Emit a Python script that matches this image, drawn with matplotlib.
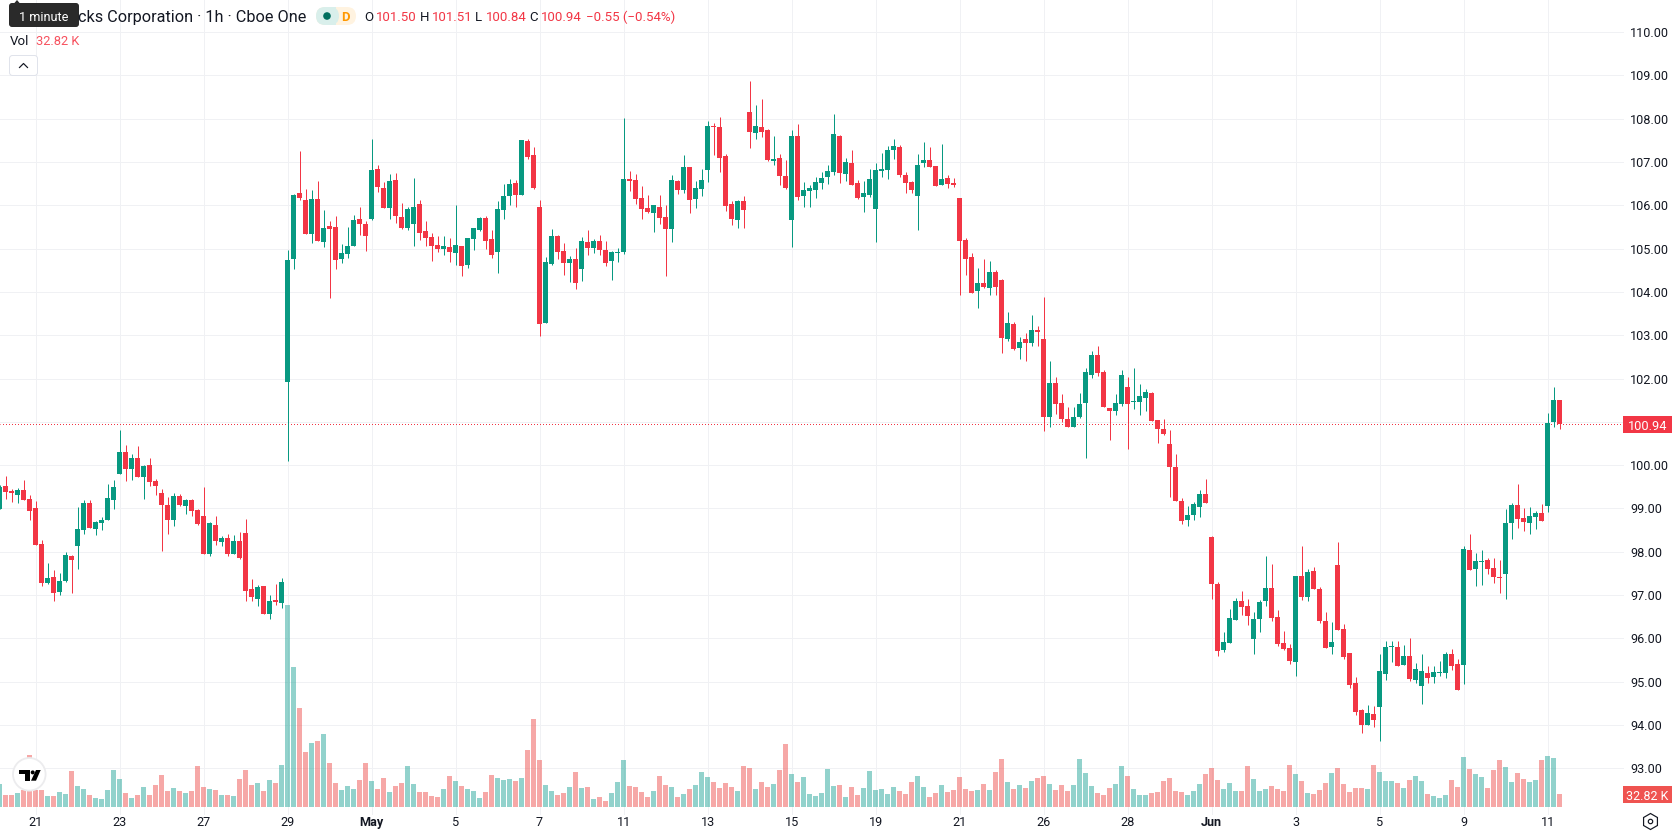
import matplotlib
matplotlib.use("Agg")
import matplotlib.pyplot as plt
import numpy as np
from matplotlib.patches import Circle, FancyBboxPatch, Polygon, Rectangle, RegularPolygon

opens = [
    98.99, 99.52, 99.41, 99.32, 99.43, 99.22, 99.02, 98.18, 97.28, 97.42,
    97.07, 97.33, 97.91, 98.14, 98.51, 99.13, 98.53, 98.67, 98.74, 99.20,
    99.80, 100.31, 99.92, 100.17, 99.73, 100.01, 99.64, 99.36, 99.08, 98.74,
    99.29, 99.06, 99.20, 98.97, 98.83, 97.95, 98.62, 98.23, 98.32, 97.95,
    98.25, 98.44, 97.14, 96.91, 97.21, 96.57, 96.89, 96.82, 101.92, 104.76,
    106.28, 106.12, 105.34, 106.15, 105.15, 105.52, 105.50, 104.76, 104.87, 105.06,
    105.68, 105.57, 105.68, 106.84, 106.40, 105.94, 106.58, 105.73, 105.48, 105.57,
    106.03, 105.41, 105.27, 105.08, 104.99, 105.04, 104.90, 105.06, 104.62, 105.22,
    105.43, 105.71, 105.22, 104.92, 105.89, 106.21, 106.51, 106.24, 107.48, 107.16,
    105.96, 103.28, 104.64, 105.29, 104.94, 104.67, 104.76, 104.53, 105.15, 105.01,
    105.17, 104.97, 104.72, 104.90, 104.93, 106.61, 106.59, 106.17, 105.94, 105.83,
    105.97, 105.73, 105.46, 106.57, 106.36, 106.89, 106.15, 106.38, 106.82, 107.84,
    107.81, 107.14, 106.03, 105.66, 106.10, 108.16, 107.67, 107.81, 107.74, 107.03,
    107.10, 106.68, 105.66, 107.61, 106.22, 106.34, 106.36, 106.52, 106.66, 106.77,
    107.61, 106.73, 106.98, 106.52, 106.20, 106.24, 105.92, 106.80, 106.82, 107.28,
    107.35, 106.70, 106.54, 106.22, 106.98, 107.05, 106.91, 106.47, 106.64, 106.52,
    106.17, 105.20, 104.81, 104.03, 104.21, 104.10, 104.46, 104.28, 102.92, 103.26,
    102.71, 102.92, 102.82, 103.12, 102.92, 101.12, 101.90, 101.44, 101.07, 100.88,
    101.12, 101.44, 102.09, 102.55, 102.16, 101.32, 101.25, 101.42, 101.81, 101.46,
    101.46, 101.55, 101.67, 101.05, 100.84, 100.49, 99.96, 99.17, 98.74, 98.85,
    99.04, 99.34, 98.34, 97.26, 95.73, 95.89, 96.43, 96.86, 96.75, 95.99,
    96.45, 96.86, 97.16, 96.49, 95.89, 95.78, 95.45, 97.44, 96.96, 97.56,
    97.14, 96.40, 95.80, 97.70, 96.22, 95.66, 94.97, 94.35, 94.00, 94.25,
    94.42, 95.18, 95.80, 95.80, 95.39, 95.59, 95.04, 94.90, 95.20, 95.11,
    95.20, 95.20, 95.64, 95.41, 95.39, 98.04, 97.60, 97.76, 97.81, 97.63,
    97.42, 97.49, 98.66, 99.08, 98.78, 98.66, 98.80, 98.90, 99.06, 101.00,
    101.50,
]
closes = [
    99.50, 99.38, 99.36, 99.43, 99.20, 98.95, 98.16, 97.28, 97.40, 97.05,
    97.33, 97.93, 97.81, 98.53, 99.13, 98.55, 98.69, 98.74, 99.25, 99.50,
    100.31, 99.92, 100.17, 99.73, 99.99, 99.62, 99.52, 99.08, 98.74, 99.29,
    99.08, 99.20, 98.95, 98.65, 97.95, 98.67, 98.25, 98.32, 97.95, 98.25,
    97.86, 97.10, 96.96, 97.19, 96.57, 96.87, 96.84, 97.31, 104.74, 106.24,
    106.17, 105.34, 106.15, 105.17, 105.48, 105.45, 104.74, 104.90, 105.06, 105.66,
    105.57, 105.29, 106.81, 106.42, 105.94, 106.56, 105.75, 105.48, 105.91, 105.96,
    105.36, 105.24, 105.06, 104.99, 105.06, 104.92, 105.08, 104.60, 105.24, 105.48,
    105.71, 105.17, 104.85, 105.91, 106.21, 106.49, 106.24, 107.51, 107.12, 106.40,
    103.26, 104.69, 105.29, 104.92, 104.67, 104.76, 104.20, 105.17, 105.01, 105.17,
    104.97, 104.67, 104.93, 104.93, 106.61, 106.57, 106.15, 105.92, 105.85, 106.01,
    105.71, 105.46, 106.59, 106.36, 106.89, 106.13, 106.40, 106.59, 107.84, 107.81,
    107.10, 105.99, 105.69, 106.10, 105.90, 107.70, 107.84, 107.70, 107.05, 107.07,
    106.68, 106.40, 107.61, 106.20, 106.36, 106.40, 106.54, 106.64, 106.80, 107.65,
    106.75, 107.00, 106.47, 106.17, 106.29, 106.61, 106.82, 106.84, 107.28, 107.37,
    106.70, 106.52, 106.36, 106.94, 107.05, 106.89, 106.45, 106.61, 106.50, 106.47,
    105.18, 104.77, 103.98, 104.21, 104.12, 104.46, 104.12, 102.94, 103.29, 102.69,
    102.85, 102.82, 103.12, 103.08, 101.12, 101.90, 101.42, 101.07, 100.88, 101.12,
    101.42, 102.16, 102.55, 102.13, 101.35, 101.25, 101.44, 102.09, 101.42, 101.48,
    101.60, 101.69, 101.02, 100.84, 100.72, 99.96, 99.17, 98.71, 98.85, 99.11,
    99.34, 99.13, 97.26, 95.71, 95.92, 96.47, 96.86, 96.73, 96.52, 96.45,
    96.84, 97.16, 96.47, 95.87, 95.76, 95.48, 97.44, 96.96, 97.53, 97.14,
    96.40, 95.78, 95.92, 96.19, 95.57, 94.92, 94.30, 94.00, 94.28, 94.12,
    95.25, 95.80, 95.82, 95.36, 95.59, 95.06, 95.29, 95.25, 95.09, 95.22,
    95.22, 95.64, 95.36, 94.81, 98.07, 97.58, 97.79, 97.79, 97.60, 97.42,
    97.40, 98.66, 99.08, 98.76, 98.69, 98.83, 98.90, 98.71, 100.98, 101.51,
    100.94,
]
highs = [
    99.55, 99.75, 99.45, 99.48, 99.66, 99.32, 99.18, 98.28, 97.74, 97.58,
    97.51, 98.00, 97.93, 99.04, 99.20, 99.20, 98.71, 98.81, 99.57, 99.66,
    100.82, 100.47, 100.26, 100.45, 100.01, 100.17, 99.69, 99.45, 99.27, 99.36,
    99.34, 99.22, 99.22, 98.99, 99.50, 98.69, 98.83, 98.37, 98.41, 98.39,
    98.46, 98.76, 97.36, 97.24, 97.21, 97.01, 97.26, 97.40, 104.97, 106.26,
    107.25, 106.38, 106.35, 106.56, 105.89, 105.64, 105.75, 105.11, 105.50, 105.78,
    105.96, 105.64, 107.53, 106.93, 106.54, 106.72, 106.75, 106.05, 105.96, 106.63,
    106.12, 105.64, 105.36, 105.29, 105.29, 105.24, 106.01, 105.06, 105.24, 105.48,
    105.73, 105.75, 105.43, 106.10, 106.49, 106.61, 106.58, 107.51, 107.53, 107.35,
    106.12, 104.81, 105.45, 105.31, 105.13, 104.83, 105.01, 105.27, 105.43, 105.22,
    105.31, 105.17, 104.95, 105.02, 108.02, 106.80, 106.73, 106.45, 106.24, 106.01,
    106.24, 106.01, 106.70, 106.59, 107.17, 106.89, 106.57, 106.84, 107.95, 107.91,
    108.04, 107.19, 106.10, 106.13, 106.22, 108.88, 108.32, 108.46, 107.77, 107.61,
    107.19, 107.05, 107.74, 107.88, 106.54, 106.47, 106.66, 106.77, 106.94, 108.11,
    107.63, 107.10, 107.28, 106.59, 106.57, 106.84, 106.98, 107.21, 107.37, 107.54,
    107.40, 106.77, 106.57, 107.19, 107.47, 107.35, 106.91, 107.42, 106.70, 106.64,
    106.17, 105.25, 104.90, 104.56, 104.77, 104.72, 104.51, 104.30, 103.54, 103.31,
    102.96, 103.06, 103.47, 103.22, 103.89, 102.41, 102.04, 101.65, 101.35, 101.35,
    101.67, 102.25, 102.64, 102.76, 102.20, 101.32, 101.65, 102.20, 102.04, 102.25,
    101.88, 101.76, 101.69, 101.05, 101.07, 100.81, 100.26, 99.24, 99.06, 99.15,
    99.43, 99.68, 98.37, 97.30, 96.15, 96.68, 96.93, 97.09, 96.91, 96.61,
    96.89, 97.90, 97.72, 96.66, 96.17, 95.87, 97.44, 98.13, 97.60, 97.65,
    97.19, 96.61, 96.38, 98.23, 96.33, 95.66, 95.11, 94.37, 94.46, 94.44,
    95.64, 95.94, 95.94, 95.94, 95.85, 96.01, 95.43, 95.64, 95.36, 95.36,
    95.48, 95.69, 95.76, 95.52, 98.13, 98.41, 97.97, 98.04, 97.86, 97.86,
    97.81, 98.99, 99.13, 99.57, 99.01, 99.04, 98.94, 99.10, 101.21, 101.81,
    101.51,
]
lows = [
    98.99, 99.22, 99.15, 99.13, 99.20, 98.74, 98.16, 97.21, 97.26, 96.87,
    97.01, 97.31, 97.05, 97.61, 98.41, 98.55, 98.39, 98.51, 98.74, 98.99,
    99.80, 99.64, 99.66, 99.73, 99.22, 99.52, 99.32, 98.02, 98.41, 98.60,
    99.06, 98.88, 98.83, 98.62, 97.95, 97.91, 98.16, 98.14, 97.91, 97.95,
    97.84, 96.87, 96.87, 96.75, 96.57, 96.45, 96.77, 96.71, 100.10, 104.53,
    106.12, 105.34, 105.13, 105.17, 105.04, 103.86, 104.53, 104.67, 104.78, 105.06,
    105.31, 104.94, 105.66, 106.31, 105.94, 105.68, 105.59, 105.45, 105.43, 105.06,
    105.20, 105.06, 104.71, 104.92, 104.85, 104.69, 104.62, 104.37, 104.55, 104.97,
    105.41, 104.99, 104.78, 104.44, 105.68, 106.01, 105.96, 106.24, 107.07, 106.38,
    102.98, 103.28, 104.62, 104.76, 104.39, 104.23, 104.07, 104.25, 104.85, 104.90,
    104.85, 104.60, 104.28, 104.69, 104.88, 106.34, 106.03, 105.69, 105.83, 105.39,
    105.57, 104.37, 105.16, 106.27, 106.29, 105.83, 105.94, 106.22, 106.54, 107.17,
    106.77, 105.87, 105.55, 105.48, 105.48, 107.33, 107.54, 107.58, 107.03, 106.94,
    106.47, 106.38, 105.04, 106.13, 105.97, 105.97, 106.17, 106.38, 106.50, 106.70,
    106.52, 106.57, 106.47, 106.15, 105.85, 106.20, 105.16, 106.66, 106.61, 107.07,
    106.66, 106.29, 106.29, 105.43, 106.89, 106.89, 106.45, 106.47, 106.40, 106.43,
    103.93, 104.40, 103.98, 103.63, 104.10, 103.93, 103.93, 102.59, 102.87, 102.66,
    102.45, 102.41, 102.76, 102.76, 100.79, 100.88, 101.18, 101.00, 100.88, 100.88,
    101.09, 100.17, 102.02, 102.06, 101.35, 100.58, 101.16, 101.37, 100.38, 101.30,
    101.16, 101.25, 101.02, 100.51, 100.70, 99.27, 99.17, 98.64, 98.60, 98.74,
    98.80, 99.13, 96.91, 95.59, 95.69, 95.89, 96.43, 96.54, 96.31, 95.64,
    96.15, 96.75, 96.40, 95.82, 95.73, 95.41, 95.13, 96.89, 96.86, 97.14,
    96.36, 95.78, 95.64, 96.19, 95.52, 94.85, 94.23, 93.81, 94.00, 93.95,
    93.63, 95.04, 95.45, 95.36, 95.39, 95.02, 94.97, 94.48, 94.97, 94.97,
    95.13, 95.09, 95.27, 94.81, 94.95, 97.58, 97.21, 97.23, 97.49, 97.28,
    97.05, 96.91, 98.30, 98.55, 98.48, 98.41, 98.53, 98.71, 98.92, 100.88,
    100.84,
]
# volume in thousands
volumes = [
    58.1, 30.3, 30.3, 35.3, 42.9, 131.3, 42.9, 42.9, 27.8, 27.8,
    37.9, 32.8, 90.9, 53.0, 45.4, 30.3, 22.7, 20.2, 42.9, 93.4,
    70.7, 35.3, 22.7, 30.3, 50.5, 30.3, 55.5, 80.8, 40.4, 48.0,
    40.4, 35.3, 40.4, 103.5, 50.5, 45.4, 42.9, 30.3, 30.3, 27.8,
    70.7, 93.4, 55.5, 60.6, 40.4, 68.2, 60.6, 106.0, 510.0, 353.0,
    249.9, 138.9, 161.6, 166.6, 184.3, 111.1, 60.6, 42.9, 53.0, 45.4,
    68.2, 111.1, 65.6, 45.4, 73.2, 37.9, 53.0, 60.6, 103.5, 58.1,
    37.9, 37.9, 27.8, 25.2, 45.4, 78.3, 65.6, 53.0, 45.4, 40.4,
    22.7, 37.9, 80.8, 73.2, 68.2, 70.7, 65.6, 73.2, 143.9, 222.2,
    118.7, 55.5, 40.4, 30.3, 35.3, 50.5, 88.4, 48.0, 50.5, 20.2,
    25.2, 15.1, 35.3, 63.1, 118.7, 53.0, 50.5, 37.9, 25.2, 40.4,
    78.3, 55.5, 50.5, 25.2, 32.8, 45.4, 55.5, 88.4, 75.7, 63.1,
    48.0, 60.6, 50.5, 40.4, 103.5, 98.5, 45.4, 63.1, 50.5, 58.1,
    93.4, 159.0, 83.3, 63.1, 75.7, 32.8, 27.8, 35.3, 95.9, 53.0,
    55.5, 25.2, 50.5, 30.3, 48.0, 90.9, 42.9, 45.4, 32.8, 50.5,
    40.4, 32.8, 63.1, 78.3, 50.5, 25.2, 35.3, 55.5, 37.9, 42.9,
    75.7, 45.4, 40.4, 42.9, 58.1, 42.9, 88.4, 121.2, 63.1, 45.4,
    55.5, 48.0, 65.6, 73.2, 78.3, 58.1, 42.9, 55.5, 40.4, 55.5,
    121.2, 85.8, 53.0, 35.3, 30.3, 48.0, 58.1, 103.5, 78.3, 45.4,
    30.3, 30.3, 35.3, 37.9, 65.6, 73.2, 40.4, 37.9, 30.3, 40.4,
    58.1, 83.3, 98.5, 68.2, 45.4, 60.6, 40.4, 40.4, 103.5, 70.7,
    40.4, 45.4, 53.0, 45.4, 40.4, 106.0, 83.3, 65.6, 35.3, 32.8,
    42.9, 60.6, 85.8, 98.5, 58.1, 37.9, 48.0, 48.0, 45.4, 106.0,
    88.4, 65.6, 65.6, 60.6, 48.0, 68.2, 78.3, 65.6, 32.8, 27.8,
    22.7, 30.3, 68.2, 50.5, 126.2, 95.9, 83.3, 75.7, 48.0, 93.4,
    118.7, 101.0, 63.1, 85.8, 70.7, 63.1, 68.2, 118.7, 128.8, 123.7,
    32.82,
]
date_ticks = list(range(6, 261, 14))
date_labels = ['21', '23', '27', '29', 'May', '5', '7', '11', '13', '15',
               '19', '21', '26', '28', 'Jun', '3', '5', '9', '11']
price_ticks = list(range(93, 111))
last_close = 100.94

GREEN = '#089981'
RED = '#F23645'
VOL_GREEN = '#26a69a'
VOL_RED = '#ef5350'
GRID = '#f0f1f4'
TEXT = '#131722'

W, H = 1678, 835
PANE_W, PANE_H = 1624, 815
PX = 0.72  # one pixel in points at dpi 100

plt.rcParams['font.family'] = ['Roboto', 'DejaVu Sans']

fig = plt.figure(figsize=(W / 100, H / 100), dpi=100, facecolor='white')
rect = [0, (H - PANE_H) / H, PANE_W / W, PANE_H / H]

n = len(opens)
x = np.arange(n)
o, h, l, c = map(np.array, (opens, highs, lows, closes))
up = c >= o
candle_colors = np.where(up, GREEN, RED)
vol_colors = np.where(up, VOL_GREEN, VOL_RED)

# price pane, 6 px per bar and 43.29 px per dollar
ax = fig.add_axes(rect)
ax.set_xlim(0.4 / 6, (PANE_W + 0.4) / 6)
ax.set_ylim(110 - (PANE_H - 32.2) / 43.29, 110 + 32.2 / 43.29)
for s in ax.spines.values():
    s.set_visible(False)
ax.grid(True, color=GRID, lw=PX, zorder=0)
ax.set_axisbelow(True)

ax.yaxis.tick_right()
ax.set_yticks(price_ticks)
ax.set_yticklabels([f'{p:.2f}' for p in price_ticks])
ax.tick_params(axis='y', length=0, pad=4.6, labelsize=9.05, labelcolor=TEXT)
ax.set_xticks(date_ticks)
ax.set_xticklabels(date_labels)
ax.tick_params(axis='x', length=0, pad=0.5, labelsize=9.05, labelcolor=TEXT)
for lab in ax.get_xticklabels():
    if lab.get_text() in ('May', 'Jun'):
        lab.set_fontweight('bold')

# half a dash of offset keeps the dots on whole pixels once the line is snapped
ax.axhline(last_close, color=RED, lw=PX, ls=(0.5, (1, 2)), zorder=1)
ax.vlines(x, l, h, colors=candle_colors, lw=PX, zorder=2)
ax.bar(x, np.abs(c - o), bottom=np.minimum(o, c), width=5 / 6,
       color=candle_colors, linewidth=0, zorder=3)

# volume pane sits on top of the same pixels, 13 px is 32.82 K
vax = fig.add_axes(rect, sharex=ax, frameon=False)
kpx = 32.82 / 13
vax.set_ylim(-8 * kpx, (PANE_H - 8) * kpx)
vax.bar(x, volumes, width=5 / 6, color=vol_colors, alpha=0.5, linewidth=0)
vax.tick_params(left=False, bottom=False, labelleft=False, labelbottom=False)

# toolbar, tags and logo are placed in plain pixel coordinates
ui = fig.add_axes([0, 0, 1, 1], frameon=False)
ui.set_xlim(0, W)
ui.set_ylim(H, 0)
ui.set_xticks([])
ui.set_yticks([])


def label(px, py, s, color=TEXT, size=13, ha='left', weight='normal'):
    ui.text(px, py, s, color=color, fontsize=size * PX, ha=ha, va='center_baseline',
            fontweight=weight)


def round_box(x0, y0, x1, y1, r, **kw):
    ui.add_patch(FancyBboxPatch((x0 + r, y0 + r), x1 - x0 - 2 * r, y1 - y0 - 2 * r,
                                boxstyle=f'round,pad={r},rounding_size={r}', **kw))


# header line
label(78.5, 16, 'cks Corporation · 1h · Cboe One', size=16.3)
ui.add_patch(Polygon([(11, 7), (17, 0), (23, 7)], color='#2a2a2a', lw=0))
round_box(9, 3, 79, 27, 3, color='#2a2a2a', lw=0)
label(43.3, 16, '1 minute', color='white', size=12.8, ha='center')

ui.add_patch(FancyBboxPatch((325, 16), 22, 0, boxstyle='round,pad=9,rounding_size=9',
                            color='#fff3e0', lw=0))
ui.add_patch(FancyBboxPatch((325, 16), 5, 0, boxstyle='round,pad=9,rounding_size=9',
                            color='#d9efeb', lw=0))
ui.add_patch(Rectangle((330, 7), 6, 18, color='#d9efeb', lw=0))
ui.add_patch(Circle((327, 16), 3.8, color='#006f5e', lw=0))
label(345.5, 16, 'D', color='#ff9800', size=13, ha='center', weight='bold')

ohlc = [(364, 'O', 376, '101.50'), (420, 'H', 432, '101.51'),
        (475, 'L', 486, '100.84'), (529, 'C', 541, '100.94')]
for kx, key, vx, val in ohlc:
    label(kx, 16, key, size=13.3)
    label(vx, 16, val, color=RED, size=13.3)
label(586, 16, '\u22120.55 (\u22120.54%)', color=RED, size=13.3)

label(9.5, 40, 'Vol', size=13.3)
label(36, 40, '32.82 K', color='#f7525f', size=12.9)

# collapse button
round_box(9.5, 55.5, 37.5, 75.5, 3, fc='white', ec='#e0e3eb', lw=PX)
ui.plot([19.5, 23.5, 27.5], [67.5, 63.5, 67.5], color=TEXT, lw=1.2 * PX)

# value tags on the price scale
ui.add_patch(Rectangle((1623, 416), 49, 17, color=RED, lw=0))
label(1648, 424.5, '100.94', color='white', size=12.8, ha='center')
ui.add_patch(Rectangle((1623, 786), 49, 17, color=VOL_RED, lw=0))
label(1647.5, 794.5, '32.82 K', color='white', size=12.5, ha='center')

# settings icon
ui.add_patch(RegularPolygon((1650.5, 821.5), 6, radius=8, orientation=np.pi / 3,
                            fc='none', ec=TEXT, lw=PX * 1.2))
ui.add_patch(Circle((1650.5, 821.5), 2.2, fc='none', ec=TEXT, lw=PX * 1.2))

# logo badge
ui.add_patch(Circle((29.3, 774.3), 16.3, fc='white', ec='#ececee', lw=1.3))
ui.add_patch(Polygon([(19, 770), (30, 770), (30, 780.7), (25, 780.7), (25, 774), (19, 774)],
                     color='black', lw=0))
ui.add_patch(Circle((32.7, 772.4), 2, color='black', lw=0))
ui.add_patch(Polygon([(36, 770), (40.7, 770), (36, 780.7), (31, 780.7)], color='black', lw=0))

fig.savefig('out.png', dpi=100)
